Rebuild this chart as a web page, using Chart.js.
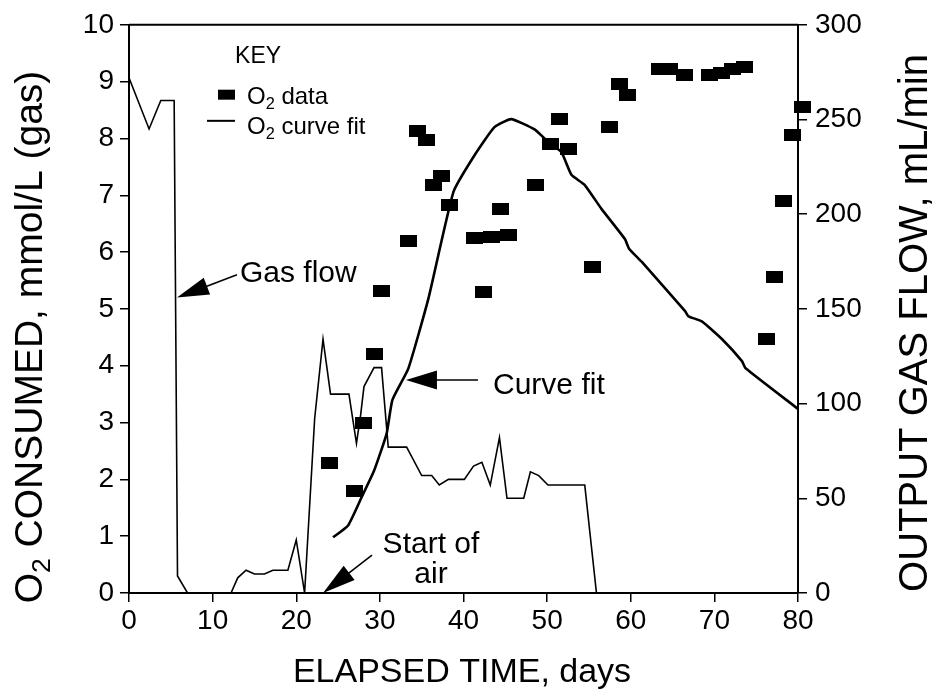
<!DOCTYPE html>
<html>
<head>
<meta charset="utf-8">
<script src="https://cdn.jsdelivr.net/npm/chart.js@4.4.1/dist/chart.umd.min.js"></script>
<style>
  html, body { margin: 0; padding: 0; background: #fff; }
</style>
</head>
<body>
<canvas id="myChart" width="935" height="690"></canvas>
<script>
// O2 data points (days, mmol/L)
const o2Days   = [24.0, 27.0, 28.0, 29.3, 30.2, 33.4, 34.5, 35.6, 36.4, 37.4, 38.3, 41.3, 42.4, 43.4, 44.4, 45.4,
                  48.6, 50.4, 51.5, 52.5, 55.4, 57.5, 58.6, 59.6, 63.4, 64.6, 66.4, 69.4, 70.8, 72.2, 73.6,
                  76.2, 77.2, 78.3, 79.4, 80.5];
const o2Values = [2.28, 1.79, 3.0, 4.2, 5.31, 6.2, 8.13, 7.97, 7.18, 7.34, 6.83, 6.25, 5.29, 6.27, 6.76, 6.3,
                  7.18, 7.9, 8.34, 7.81, 5.74, 8.21, 8.95, 8.77, 9.22, 9.22, 9.12, 9.12, 9.16, 9.22, 9.26,
                  4.47, 5.57, 6.9, 8.06, 8.55];

// O2 curve fit (days, mmol/L)
const fitDays   = [24.4, 26.2, 27.8, 29.3, 30.8, 31.5, 33.4, 35.8, 38.8, 41.3, 43.7, 45.7, 48.5, 49.9, 51.7,
                   52.9, 54.5, 56.5, 59.3, 59.8, 61.3, 66.5, 66.9, 68.5, 70.9, 73.3, 73.7, 80.0];
const fitValues = [0.98, 1.19, 1.68, 2.15, 2.8, 3.4, 3.95, 5.18, 7.06, 7.7, 8.2, 8.34, 8.16, 7.97, 7.76,
                   7.36, 7.18, 6.76, 6.23, 6.06, 5.83, 4.96, 4.87, 4.78, 4.47, 4.08, 3.96, 3.24];

// Output gas flow (days, mL/min)
const flowDays   = [0, 2.4, 3.8, 5.4, 5.8, 7.0, 12.2, 13.0, 14.0, 15.0, 16.2, 17.2, 19.0, 20.0, 21.0, 22.2,
                    23.2, 24.1, 26.3, 27.2, 27.7, 28.1, 29.3, 30.2, 31.0, 33.2, 35.0, 36.2, 37.1, 38.2, 40.1,
                    41.2, 42.2, 43.2, 44.3, 45.2, 47.2, 48.0, 49.0, 50.1, 54.5, 55.9];
const flowValues = [272, 245, 260, 260, 9, 0, 0, 8, 12, 10, 10, 12, 12, 28, 0, 92,
                    134, 105, 105, 79, 94, 109, 119, 119, 77, 77, 62, 62, 57, 60, 60,
                    67, 69, 57, 82, 50, 50, 64, 62, 57, 57, 0];

const xTicks     = [0, 10, 20, 30, 40, 50, 60, 70, 80];
const leftTicks  = [0, 1, 2, 3, 4, 5, 6, 7, 8, 9, 10];
const rightTicks = [0, 50, 100, 150, 200, 250, 300];

const FONT = '"Liberation Sans", Arial, Helvetica, sans-serif';

// square marker, a little wider than tall
const marker = document.createElement('canvas');
marker.width = 17; marker.height = 12;
marker.getContext('2d').fillRect(0, 0, 17, 12);

// text with a subscript part: [['O'], ['2', true], [' data']]
function drawParts(ctx, parts, x, y, size, align) {
    let w = 0;
    parts.forEach(p => {
        ctx.font = (p[1] ? size * 0.68 : size) + 'px ' + FONT;
        w += ctx.measureText(p[0]).width;
    });
    let cx = align === 'center' ? x - w / 2 : x;
    ctx.textAlign = 'left';
    ctx.textBaseline = 'alphabetic';
    parts.forEach(p => {
        ctx.font = (p[1] ? size * 0.68 : size) + 'px ' + FONT;
        ctx.fillText(p[0], cx, p[1] ? y + size * 0.2 : y);
        cx += ctx.measureText(p[0]).width;
    });
}

function arrow(ctx, x1, y1, x2, y2, head, half) {
    const a = Math.atan2(y2 - y1, x2 - x1);
    ctx.beginPath();
    ctx.moveTo(x1, y1);
    ctx.lineTo(x2 - Math.cos(a) * head * 0.8, y2 - Math.sin(a) * head * 0.8);
    ctx.stroke();
    const bx = x2 - Math.cos(a) * head, by = y2 - Math.sin(a) * head;
    ctx.beginPath();
    ctx.moveTo(x2, y2);
    ctx.lineTo(bx + Math.sin(a) * half, by - Math.cos(a) * half);
    ctx.lineTo(bx - Math.sin(a) * half, by + Math.cos(a) * half);
    ctx.closePath();
    ctx.fill();
}

// annotation anchors in data units (days, mmol/L)
const gasNote   = { text: [5.74, 5.20], tail: [12.91, 5.60], label: [13.27, 5.48] };
const fitNote   = { tip: [33.12, 3.75], tail: [41.73, 3.75], label: [43.53, 3.50] };
const airNote   = { tip: [23.2, 0], tail: [29.06, 0.665], label: [36.11, 0.70], label2: [36.11, 0.175] };
const keyPos    = { title: [12.68, 9.33], square: [11.66, 8.77], text1: [14.11, 8.61],
                    line: [9.33, 12.68, 8.31], text2: [14.11, 8.08] };

const extras = {
    id: 'extras',
    afterDraw(chart) {
        const ctx = chart.ctx;
        const a = chart.chartArea;
        const sx = v => chart.scales.x.getPixelForValue(v);
        const sy = v => chart.scales.y.getPixelForValue(v);
        ctx.save();
        ctx.fillStyle = '#000';
        ctx.strokeStyle = '#000';

        // top frame line
        ctx.lineWidth = 2;
        ctx.beginPath();
        ctx.moveTo(a.left, a.top);
        ctx.lineTo(a.right, a.top);
        ctx.stroke();

        // axis titles
        drawParts(ctx, [['ELAPSED TIME, days']], 462, 682, 34, 'center');
        ctx.save();
        ctx.translate(42, 337);
        ctx.rotate(-Math.PI / 2);
        drawParts(ctx, [['O'], ['2', true], [' CONSUMED, mmol/L (gas)']], 0, 0, 39, 'center');
        ctx.restore();
        ctx.save();
        ctx.translate(927, 323);
        ctx.rotate(-Math.PI / 2);
        drawParts(ctx, [['OUTPUT GAS FLOW, mL/min']], 0, 0, 40, 'center');
        ctx.restore();

        // key
        ctx.font = '23px ' + FONT;
        ctx.textAlign = 'left';
        ctx.fillText('KEY', sx(keyPos.title[0]), sy(keyPos.title[1]));
        ctx.fillRect(sx(keyPos.square[0]) - 8.5, sy(keyPos.square[1]) - 5, 17, 10);
        drawParts(ctx, [['O'], ['2', true], [' data']], sx(keyPos.text1[0]), sy(keyPos.text1[1]), 24, 'left');
        ctx.lineWidth = 2;
        ctx.beginPath();
        ctx.moveTo(sx(keyPos.line[0]), sy(keyPos.line[2]));
        ctx.lineTo(sx(keyPos.line[1]), sy(keyPos.line[2]));
        ctx.stroke();
        drawParts(ctx, [['O'], ['2', true], [' curve fit']], sx(keyPos.text2[0]), sy(keyPos.text2[1]), 24, 'left');

        // annotations
        ctx.lineWidth = 1.6;
        drawParts(ctx, [['Gas flow']], sx(gasNote.label[0]), sy(gasNote.label[1]), 30, 'left');
        arrow(ctx, sx(gasNote.tail[0]), sy(gasNote.tail[1]), sx(gasNote.text[0]), sy(gasNote.text[1]), 32, 9);
        drawParts(ctx, [['Curve fit']], sx(fitNote.label[0]), sy(fitNote.label[1]), 30, 'left');
        arrow(ctx, sx(fitNote.tail[0]), sy(fitNote.tail[1]), sx(fitNote.tip[0]), sy(fitNote.tip[1]), 31, 9.5);
        drawParts(ctx, [['Start of']], sx(airNote.label[0]), sy(airNote.label[1]), 30, 'center');
        drawParts(ctx, [['air']], sx(airNote.label2[0]), sy(airNote.label2[1]), 30, 'center');
        arrow(ctx, sx(airNote.tail[0]), sy(airNote.tail[1]), sx(airNote.tip[0]), sy(airNote.tip[1]), 33, 9);

        ctx.restore();
    }
};

function axisStyle(extra) {
    return Object.assign({
        grid: { drawOnChartArea: false, drawTicks: true, tickLength: 9, color: '#000', lineWidth: 1.5 },
        border: { display: true, color: '#000', width: 2 },
    }, extra);
}

const ctx = document.getElementById('myChart').getContext('2d');
const myChart = new Chart(ctx, {
    data: {
        datasets: [
            {
                type: 'scatter',
                label: 'O2 data',
                data: o2Days.map((d, i) => ({ x: d, y: o2Values[i] })),
                pointStyle: marker,
                backgroundColor: '#000',
                yAxisID: 'y',
                clip: false,
                order: 0
            },
            {
                type: 'line',
                label: 'O2 curve fit',
                data: fitDays.map((d, i) => ({ x: d, y: fitValues[i] })),
                borderColor: '#000',
                borderWidth: 2.6,
                pointRadius: 0,
                tension: 0.15,
                yAxisID: 'y',
                order: 1
            },
            {
                type: 'line',
                label: 'Gas flow',
                data: flowDays.map((d, i) => ({ x: d, y: flowValues[i] })),
                borderColor: '#000',
                borderWidth: 1.6,
                pointRadius: 0,
                tension: 0,
                yAxisID: 'y2',
                order: 2
            }
        ]
    },
    options: {
        responsive: false,
        animation: false,
        layout: { padding: { top: 22, left: 0, right: 0, bottom: 0 } },
        plugins: { legend: { display: false }, tooltip: { enabled: false } },
        scales: {
            x: axisStyle({
                type: 'linear', min: 0, max: 80,
                afterBuildTicks: s => { s.ticks = xTicks.map(v => ({ value: v })); },
                ticks: { color: '#000', font: { family: FONT, size: 28 }, padding: 2, maxRotation: 0 },
                afterFit: s => { s.height = 97; }
            }),
            y: axisStyle({
                type: 'linear', position: 'left', min: 0, max: 10,
                afterBuildTicks: s => { s.ticks = leftTicks.map(v => ({ value: v })); },
                ticks: { color: '#000', font: { family: FONT, size: 28 }, padding: 6 },
                afterFit: s => { s.width = 129; }
            }),
            y2: axisStyle({
                type: 'linear', position: 'right', min: 0, max: 300,
                afterBuildTicks: s => { s.ticks = rightTicks.map(v => ({ value: v })); },
                ticks: { color: '#000', font: { family: FONT, size: 28 }, padding: 8 },
                afterFit: s => { s.width = 137; }
            })
        }
    },
    plugins: [extras]
});
</script>
</body>
</html>
